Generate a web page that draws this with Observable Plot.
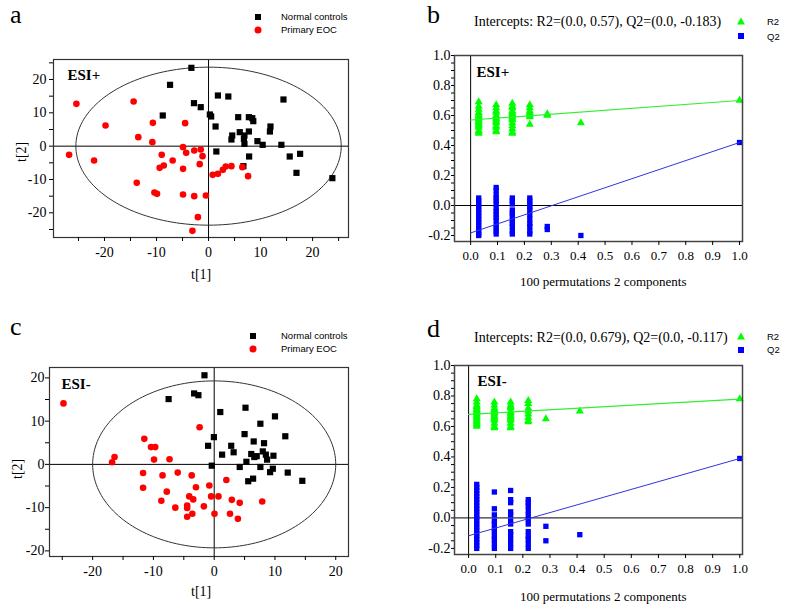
<!DOCTYPE html>
<html><head><meta charset="utf-8">
<script src="https://cdn.jsdelivr.net/npm/d3@7"></script>
<script src="https://cdn.jsdelivr.net/npm/@observablehq/plot@0.6"></script>
<style>
html,body{margin:0;padding:0;background:#fff;}
#root{position:relative;width:787px;height:607px;overflow:hidden;font-family:"Liberation Serif",serif;color:#000;}
.abs{position:absolute;white-space:nowrap;line-height:1;}
.letter{font-size:26px;}
.lab{font-size:14px;}
.leg{font-family:"Liberation Sans",Arial,sans-serif;font-size:9.5px;}
.ttl{font-size:14px;}
.xl{font-size:13px;}
svg.pl{position:absolute;overflow:visible;}
</style></head><body>
<div id="root"></div>
<script>
// ---------- Panel a (ESI+ scores) ----------
const normalA_t1 = [-3.3,-7.4,-2.8,-1.5,-8.8,0.25,0.5,1.8,3.8,14.4,1.35,5.7,7.75,8.4,8.6,4.55,4.4,6.0,6.9,6.8,6.9,7.75,9.4,10.4,11.9,11.8,14.0,1.5,7.8,15.6,17.6,16.9,6.7,23.8];
const normalA_t2 = [23.5,18.4,12.9,11.7,9.2,9.5,8.9,15.2,14.9,14.0,5.9,8.7,8.7,8.4,7.5,3.2,2.0,4.2,3.2,2.2,0.7,4.4,1.5,0.4,5.9,4.4,0.4,-1.6,-3.1,-3.1,-2.3,-8.0,-6.0,-9.6];
const eocA_t1 = [-25.4,-26.8,-22.0,-19.8,-14.4,-13.5,-10.8,-10.7,-9.0,-9.4,-8.6,-6.9,-4.9,-4.5,-4.3,-4.9,-2.75,-1.5,-1.15,-1.7,-13.8,-10.4,-9.9,-4.9,-2.75,-0.5,-2.05,-3.1,0.8,1.8,2.75,3.3,4.4,6.5,7.6];
const eocA_t2 = [12.7,-2.6,-4.3,6.2,13.4,2.7,1.2,7.0,-2.6,-6.5,-5.8,-4.3,-0.3,6.9,-2.0,-6.8,-1.3,-1.0,-3.0,-5.4,-11.0,-13.9,-14.3,-14.5,-15.0,-14.8,-21.3,-25.4,-8.6,-8.3,-7.1,-6.1,-6.0,-6.3,-9.0];
const ellipseA = [25.5, 23.7]; // Hotelling T2 semi-axes

// ---------- Panel c (ESI- scores) ----------
const normalC_t1 = [-7.5,-3.3,-2.6,-1.6,1.0,5.15,10.0,7.6,5.0,-0.05,-1.0,1.3,-0.4,2.8,3.2,6.5,8.2,11.7,6.1,6.6,7.0,8.0,8.5,9.75,5.3,8.7,4.2,7.6,9.65,9.2,12.1,14.5,5.6,6.4];
const normalC_t2 = [15.1,16.4,16.0,20.6,12.1,13.1,11.1,9.4,7.0,6.3,4.3,2.25,-0.3,4.3,2.8,5.3,4.9,6.5,2.4,1.7,1.9,3.0,2.25,2.0,0.6,1.1,-0.6,-0.6,-1.0,-1.8,-1.9,-3.8,-3.9,-3.3];
const eocC_t1 = [-24.8,-16.8,-16.4,-11.5,-10.4,-9.7,-9.9,-7.35,-2.4,-11.7,-11.7,-8.5,-7.8,-8.7,-6.0,-3.7,-3.0,-4.1,-3.45,-6.4,-4.45,-4.45,-4.45,-3.6,-1.7,-0.8,-0.5,0.7,0.05,2.0,2.9,4.2,2.6,3.9,7.9];
const eocC_t2 = [14.1,0.5,1.7,5.9,4.0,4.0,1.1,1.2,8.6,-2.0,-5.4,-2.55,-6.3,-8.4,-1.9,-2.55,-5.3,-7.4,-8.1,-10.0,-9.5,-10.1,-12.1,-11.4,-9.7,-4.9,-7.4,-7.4,-11.4,-3.6,-8.2,-8.9,-11.4,-12.6,-8.6];
const ellipseC = [20.0, 19.3];

// score plot tick labels
const scoreMajor = [-20,-10,0,10,20];
const scoreMinorA = [-25,-15,-5,5,15,25];
const scoreMinorC = [-25,-15,-5,5,15];
const scoreMinorCy = [-15,-5,5,15];

// ---------- Panel b (ESI+ permutations) ----------
const permXB = [0.03, 0.095, 0.155, 0.22, 0.285, 0.41, 1.0];
const r2B = [
  [0.69,0.66,0.64,0.62,0.61,0.60,0.59,0.58,0.57,0.56,0.55,0.54,0.53,0.52,0.50,0.49,0.48],
  [0.67,0.65,0.63,0.62,0.60,0.59,0.58,0.57,0.56,0.55,0.53,0.52,0.50,0.49],
  [0.68,0.66,0.65,0.63,0.62,0.61,0.60,0.59,0.58,0.57,0.55,0.53,0.51,0.49,0.48],
  [0.67,0.65,0.63,0.62,0.61,0.60,0.59,0.54],
  [0.61,0.60],
  [0.55],
  [0.70]
];
const q2B = [
  [0.05,0.03,0.01,-0.01,-0.03,-0.05,-0.07,-0.09,-0.11,-0.13,-0.15,-0.17,-0.19,-0.20],
  [0.12,0.10,0.07,0.05,0.03,0.01,-0.02,-0.04,-0.06,-0.08,-0.10,-0.13,-0.15,-0.17,-0.19],
  [0.05,0.03,0.01,-0.03,-0.05,-0.07,-0.10,-0.12,-0.14,-0.17,-0.19],
  [0.05,0.03,0.01,-0.01,-0.03,-0.06,-0.09,-0.12,-0.14,-0.17,-0.19],
  [-0.14,-0.16],
  [-0.20],
  [0.42]
];
const lineXB = [0, 1];
const r2LineB = [0.57, 0.70];
const q2LineB = [-0.183, 0.42];

// ---------- Panel d (ESI- permutations) ----------
const permXD = [0.03, 0.095, 0.155, 0.22, 0.285, 0.41, 1.0];
const r2D = [
  [0.78,0.76,0.74,0.73,0.72,0.71,0.70,0.69,0.68,0.67,0.66,0.65,0.64,0.63,0.62,0.61,0.60],
  [0.76,0.74,0.72,0.71,0.70,0.69,0.68,0.67,0.66,0.65,0.64,0.62,0.60,0.59],
  [0.76,0.74,0.73,0.72,0.70,0.69,0.68,0.67,0.66,0.65,0.64,0.62,0.60,0.59],
  [0.77,0.75,0.72,0.70,0.68,0.66,0.64,0.63],
  [0.65],
  [0.70],
  [0.78]
];
const q2D = [
  [0.22,0.20,0.18,0.16,0.14,0.12,0.10,0.08,0.06,0.04,0.02,0.00,-0.02,-0.04,-0.06,-0.08,-0.10,-0.12,-0.14,-0.16,-0.18,-0.20],
  [0.17,0.06,0.02,-0.02,-0.04,-0.07,-0.09,-0.12,-0.14,-0.17,-0.20],
  [0.18,0.12,0.10,0.04,0.02,-0.02,-0.04,-0.09,-0.11,-0.14,-0.17,-0.20],
  [0.12,0.10,0.08,0.05,0.02,-0.01,-0.04,-0.09,-0.12,-0.14,-0.17,-0.20],
  [-0.055,-0.15],
  [-0.11],
  [0.39]
];
const lineXD = [0, 1];
const r2LineD = [0.679, 0.78];
const q2LineD = [-0.117, 0.39];

const permMajorX = [0,0.1,0.2,0.3,0.4,0.5,0.6,0.7,0.8,0.9,1.0];
const permMajorY = [-0.2,0,0.2,0.4,0.6,0.8,1.0];
const permMinorY = [-0.15,-0.1,-0.05,0.05,0.1,0.15,0.25,0.3,0.35,0.45,0.5,0.55,0.65,0.7,0.75,0.85,0.9,0.95];

// ---------- helpers ----------
const root = document.getElementById("root");
function place(el, left, top) {
  el.classList.add("pl");
  el.style.left = left + "px";
  el.style.top = top + "px";
  root.appendChild(el);
}
function txt(s, cls, left, top, extra) {
  const d = document.createElement("div");
  d.className = "abs " + cls;
  d.textContent = s;
  d.style.left = left + "px";
  d.style.top = top + "px";
  if (extra) Object.assign(d.style, extra);
  root.appendChild(d);
  return d;
}
function marker(kind, color, cx, cy, size) {
  const ns = "http://www.w3.org/2000/svg";
  const s = document.createElementNS(ns, "svg");
  s.setAttribute("width", 12); s.setAttribute("height", 12);
  s.style.position = "absolute";
  s.style.left = (cx - 6) + "px"; s.style.top = (cy - 6) + "px";
  let e;
  if (kind === "square") { e = document.createElementNS(ns, "rect"); e.setAttribute("x", 6 - size/2); e.setAttribute("y", 6 - size/2); e.setAttribute("width", size); e.setAttribute("height", size); }
  else if (kind === "circle") { e = document.createElementNS(ns, "circle"); e.setAttribute("cx", 6); e.setAttribute("cy", 6); e.setAttribute("r", size/2); }
  else { e = document.createElementNS(ns, "path"); const h = size*0.9; e.setAttribute("d", `M6,${6-h/2}L${6+size/2},${6+h/2}L${6-size/2},${6+h/2}Z`); }
  e.setAttribute("fill", color);
  s.appendChild(e);
  root.appendChild(s);
}
const zipPts = (xs, ys) => xs.map((x, i) => ({x, y: ys[i]}));
const hyphen = d => String(d);
const fix1 = d => d.toFixed(1);

function scorePlot(o) {
  const normal = zipPts(o.n1, o.n2);
  const eoc = zipPts(o.e1, o.e2);
  const ell = d3.range(0, 361, 2).map(a => ({x: o.ell[0]*Math.cos(a*Math.PI/180), y: o.ell[1]*Math.sin(a*Math.PI/180)}));
  return Plot.plot({
    width: o.width, height: o.height,
    marginLeft: o.mL, marginTop: o.mT, marginRight: o.mR, marginBottom: o.mB,
    x: {domain: o.xd}, y: {domain: o.yd},
    style: {fontFamily: "Liberation Serif", fontSize: "14px", color: "#000", background: "transparent", overflow: "visible"},
    marks: [
      Plot.ruleX([0], {stroke: "#000", strokeWidth: 1}),
      Plot.ruleY([0], {stroke: "#000", strokeWidth: 1}),
      Plot.line(ell, {x: "x", y: "y", stroke: "#333", strokeWidth: 1}),
      Plot.dot(normal, {x: "x", y: "y", symbol: "square", fill: "#000", r: 3.5}),
      Plot.dot(eoc, {x: "x", y: "y", symbol: "circle", fill: "#ff0000", r: 3.3}),
      Plot.frame({stroke: "#333", strokeWidth: 1.2}),
      Plot.axisX(scoreMajor, {tickSize: 4, tickPadding: o.xpad, tickFormat: hyphen, label: null, fontSize: 14}),
      Plot.axisX(o.minX, {tickSize: 4, tickFormat: () => "", label: null}),
      Plot.axisY(scoreMajor, {tickSize: 4, tickPadding: o.ypad, tickFormat: hyphen, label: null, fontSize: 14}),
      Plot.axisY(o.minY, {tickSize: 4, tickFormat: () => "", label: null}),
      Plot.text([o.tag], {frameAnchor: "top-left", dx: o.tdx, dy: o.tdy, text: d => d, textAnchor: "start", lineAnchor: "top", fontWeight: "bold", fontSize: 15})
    ]
  });
}

function permPlot(o) {
  const r2 = o.px.flatMap((x, i) => o.r2[i].map(y => ({x, y})));
  const q2 = o.px.flatMap((x, i) => o.q2[i].map(y => ({x, y})));
  const r2l = zipPts(o.lx, o.r2l);
  const q2l = zipPts(o.lx, o.q2l);
  return Plot.plot({
    width: o.width, height: o.height,
    marginLeft: o.mL, marginTop: o.mT, marginRight: o.mR, marginBottom: o.mB,
    x: {domain: o.xd}, y: {domain: [-0.24, 1.0]},
    style: {fontFamily: "Liberation Serif", fontSize: "14px", color: "#000", background: "transparent", overflow: "visible"},
    marks: [
      Plot.ruleX([0], {stroke: "#000", strokeWidth: 1}),
      Plot.ruleY([0], {stroke: "#000", strokeWidth: 1}),
      Plot.dot(r2, {x: "x", y: "y", symbol: "triangle", fill: "#00ff00", r: 3}),
      Plot.dot(q2, {x: "x", y: "y", symbol: "square", fill: "#0000ff", r: 3}),
      Plot.line(r2l, {x: "x", y: "y", stroke: "#33ee33", strokeWidth: 1.2}),
      Plot.line(q2l, {x: "x", y: "y", stroke: "#3333dd", strokeWidth: 1}),
      Plot.frame({stroke: "#444", strokeWidth: 1.5}),
      Plot.axisX(permMajorX, {tickSize: 4, tickPadding: 5, tickFormat: fix1, label: null, fontSize: 13}),
      Plot.axisY(permMajorY, {tickSize: 3, tickPadding: 1, tickFormat: fix1, label: null, fontSize: 14}),
      Plot.axisY(permMinorY, {tickSize: 3, tickFormat: () => "", label: null}),
      Plot.text([o.tag], {frameAnchor: "top-left", dx: o.tdx, dy: o.tdy, text: d => d, textAnchor: "start", lineAnchor: "top", fontWeight: "bold", fontSize: 15})
    ]
  });
}

// ---------- panel a ----------
place(scorePlot({n1: normalA_t1, n2: normalA_t2, e1: eocA_t1, e2: eocA_t2, ell: ellipseA,
  width: 393, height: 300, mL: 53, mT: 59, mR: 45, mB: 63, xd: [-29.8, 26.9], yd: [-27.4, 26.0],
  minX: scoreMinorA, minY: scoreMinorA, xpad: 6, ypad: 3, tag: "ESI+", tdx: 14, tdy: 10}), 0, 0);
txt("a", "letter", 10, 2);
txt("t[1]", "lab", 191, 268);
txt("t[2]", "lab", 8, 141, {transform: "rotate(-90deg)", transformOrigin: "14px 7px"});
marker("square", "#000", 258, 17, 6);
txt("Normal controls", "leg", 281, 12);
marker("circle", "#ff0000", 258, 30, 7);
txt("Primary EOC", "leg", 281, 25);

// ---------- panel b ----------
place(permPlot({px: permXB, r2: r2B, q2: q2B, lx: lineXB, r2l: r2LineB, q2l: q2LineB,
  width: 387, height: 300, mL: 54, mT: 55, mR: 45, mB: 59, xd: [-0.06, 1.011], tag: "ESI+", tdx: 22, tdy: 11}), 400, 0);
txt("b", "letter", 427, 2);
txt("Intercepts: R2=(0.0, 0.57), Q2=(0.0, -0.183)", "ttl", 474, 15);
marker("triangle", "#00ff00", 741, 21, 8);
txt("R2", "leg", 767, 17);
marker("square", "#0000ff", 741, 36, 6);
txt("Q2", "leg", 767, 32);
txt("100 permutations 2 components", "xl", 520, 275);

// ---------- panel c ----------
place(scorePlot({n1: normalC_t1, n2: normalC_t2, e1: eocC_t1, e2: eocC_t2, ell: ellipseC,
  width: 393, height: 307, mL: 49, mT: 67, mR: 45, mB: 51, xd: [-27.1, 22.1], yd: [-21.3, 22.4],
  minX: scoreMinorC, minY: scoreMinorCy, xpad: 6, ypad: 1, tag: "ESI-", tdx: 12, tdy: 11}), 0, 300);
txt("c", "letter", 10, 314);
txt("t[1]", "lab", 191, 585);
txt("t[2]", "lab", 4, 458, {transform: "rotate(-90deg)", transformOrigin: "14px 7px"});
marker("square", "#000", 253, 336, 6);
txt("Normal controls", "leg", 281, 331);
marker("circle", "#ff0000", 253, 349, 7);
txt("Primary EOC", "leg", 281, 344);

// ---------- panel d ----------
place(permPlot({px: permXD, r2: r2D, q2: q2D, lx: lineXD, r2l: r2LineD, q2l: q2LineD,
  width: 387, height: 307, mL: 54, mT: 65, mR: 45, mB: 53, xd: [-0.052, 1.01], tag: "ESI-", tdx: 23, tdy: 10}), 400, 300);
txt("d", "letter", 427, 316);
txt("Intercepts: R2=(0.0, 0.679), Q2=(0.0, -0.117)", "ttl", 474, 331);
marker("triangle", "#00ff00", 741, 336, 8);
txt("R2", "leg", 767, 332);
marker("square", "#0000ff", 741, 350, 6);
txt("Q2", "leg", 767, 345);
txt("100 permutations 2 components", "xl", 520, 590);
</script>
</body></html>
